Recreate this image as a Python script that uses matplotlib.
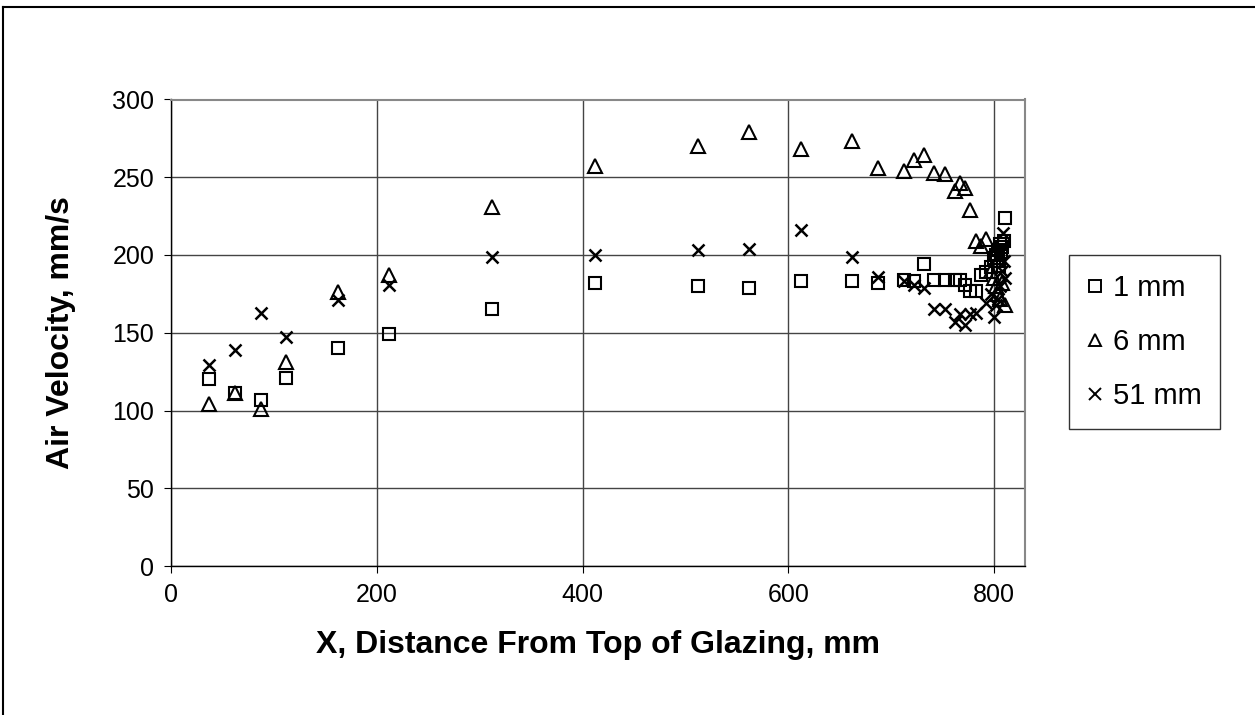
import matplotlib
matplotlib.use("Agg")
from matplotlib import pyplot as plt
from matplotlib.lines import Line2D

plt.rcParams['font.family'] = ['Liberation Sans', 'DejaVu Sans']

# 1 mm from glazing
x_1mm = [37, 62, 87, 112, 162, 212, 312, 412, 512, 562, 612, 662, 687, 712, 722, 732,
         742, 752, 762, 767, 772, 777, 782, 787, 792, 797, 800, 802, 803, 804, 805, 806,
         807, 808, 810, 811]
v_1mm = [120, 111, 107, 121, 140, 149, 165, 182, 180, 179, 183, 183, 182, 184, 183, 194,
         184, 184, 184, 184, 181, 177, 177, 187, 189, 192, 198, 200, 196, 203, 193, 207,
         202, 205, 209, 224]

# 6 mm from glazing
x_6mm = [37, 62, 87, 112, 162, 212, 312, 412, 512, 562, 612, 662, 687, 712, 722, 732,
         742, 752, 762, 767, 772, 777, 782, 787, 792, 797, 800, 802, 804, 806, 808, 811]
v_6mm = [104, 111, 101, 131, 176, 187, 231, 257, 270, 279, 268, 273, 256, 254, 261, 264,
         253, 252, 241, 246, 243, 229, 209, 206, 210, 190, 185, 180, 175, 172, 182, 168]

# 51 mm from glazing
x_51mm = [37, 62, 87, 112, 162, 212, 312, 412, 512, 562, 612, 662, 687, 712, 722, 732,
          742, 752, 762, 767, 772, 777, 782, 792, 797, 800, 802, 804, 806, 808, 809, 810, 811]
v_51mm = [129, 139, 163, 147, 171, 181, 199, 200, 203, 204, 216, 199, 186, 183, 181, 179,
          165, 165, 157, 162, 155, 162, 163, 169, 175, 160, 168, 172, 180, 190, 214, 196, 185]

fig = plt.figure(figsize=(12.55, 7.15), dpi=100)
ax = fig.add_axes([171/1255, 1 - 566/715, (1025 - 171)/1255, (566 - 99.5)/715])

ms = 9
mew = 1.5
ax.plot(x_1mm, v_1mm, linestyle='none', marker='s', markersize=ms, markerfacecolor='none',
        markeredgecolor='black', markeredgewidth=mew, label='1 mm')
ax.plot(x_6mm, v_6mm, linestyle='none', marker='^', markersize=ms + 1, markerfacecolor='none',
        markeredgecolor='black', markeredgewidth=mew, label='6 mm')
ax.plot(x_51mm, v_51mm, linestyle='none', marker='x', markersize=ms, color='black',
        markeredgewidth=mew + 0.3, label='51 mm')

ax.set_xlim(0, 830)
ax.set_ylim(0, 300)
ax.set_xticks([0, 200, 400, 600, 800])
ax.set_yticks(range(0, 301, 50))
ax.grid(True, color='#444444', linewidth=1)
ax.set_axisbelow(True)

for s in ['top', 'right']:
    ax.spines[s].set_color('#888888')
    ax.spines[s].set_linewidth(1.5)
for s in ['left', 'bottom']:
    ax.spines[s].set_color('black')
    ax.spines[s].set_linewidth(1)

ax.tick_params(labelsize=18, length=5, direction='out', pad=7)
ax.set_xlabel('X, Distance From Top of Glazing, mm', fontsize=23, fontweight='bold', labelpad=17)
ax.set_ylabel('Air Velocity, mm/s', fontsize=23, fontweight='bold', labelpad=26)

handles = [
    Line2D([], [], linestyle='none', marker='s', markersize=8, markerfacecolor='none',
           markeredgecolor='black', markeredgewidth=1.4),
    Line2D([], [], linestyle='none', marker='^', markersize=8, markerfacecolor='none',
           markeredgecolor='black', markeredgewidth=1.4),
    Line2D([], [], linestyle='none', marker='x', markersize=8, color='black',
           markeredgewidth=1.4),
]
leg = fig.legend(handles, ['1 mm', '6 mm', '51 mm'], loc='upper left',
                 bbox_to_anchor=(1069/1255, 1 - 255/715), fontsize=21, frameon=True,
                 fancybox=False, edgecolor='black', handlelength=0.5, handletextpad=0.35,
                 labelspacing=0.9, borderpad=0.65, borderaxespad=0)
leg.get_frame().set_linewidth(1)

# outer chart border
fig.add_artist(Line2D([3/1255, 3/1255], [0, 1 - 7/715], color='black', linewidth=1.5,
                      transform=fig.transFigure))
fig.add_artist(Line2D([3/1255, 1], [1 - 7/715, 1 - 7/715], color='black', linewidth=1.5,
                      transform=fig.transFigure))

plt.savefig('out.png', dpi=100)
